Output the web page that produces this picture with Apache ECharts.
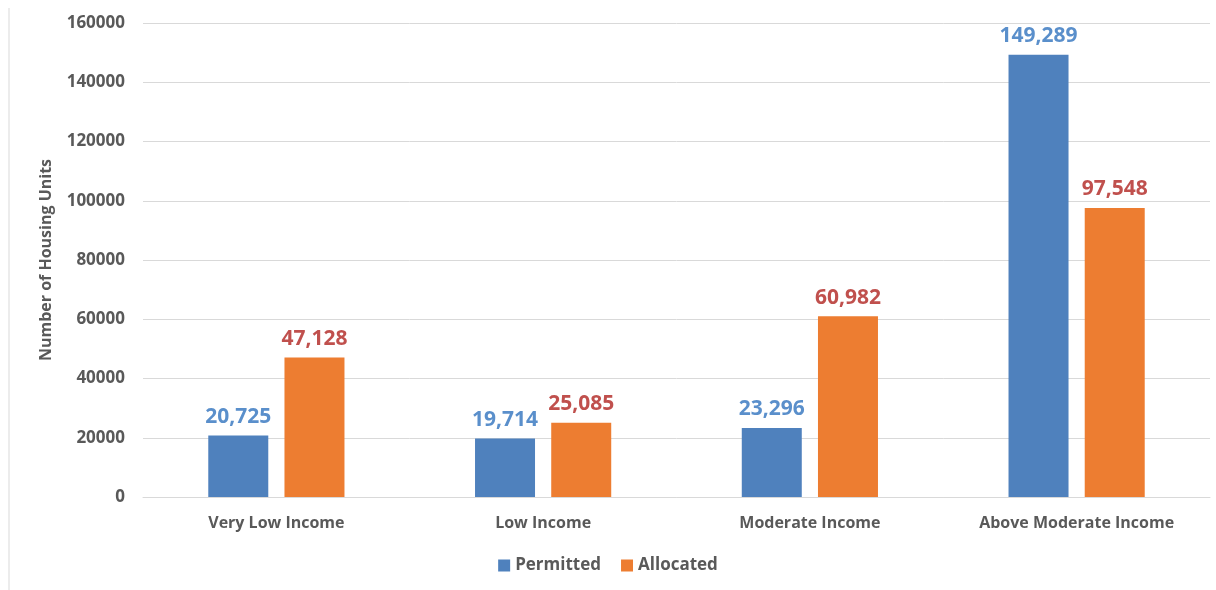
<!DOCTYPE html>
<html>
<head>
<meta charset="utf-8">
<script src="https://cdn.jsdelivr.net/npm/echarts@6/dist/echarts.min.js"></script>
<style>
  html, body { margin: 0; padding: 0; background: #fff; }
  #chart { width: 1216px; height: 590px; }
</style>
</head>
<body>
<div id="chart"></div>
<script>
// Housing units permitted vs. allocated by income level
const categories = ['Very Low Income', 'Low Income', 'Moderate Income', 'Above Moderate Income'];
const permitted = [20725, 19714, 23296, 149289];
const allocated = [47128, 25085, 60982, 97548];
const yTicks = { min: 0, max: 160000, interval: 20000 };

const FONT = '"Open Sans", "Noto Sans", sans-serif';
const fmt = v => v.toLocaleString('en-US');

const chart = echarts.init(document.getElementById('chart'));
chart.setOption({
  animation: false,
  textStyle: { fontFamily: FONT },
  graphic: [{
    type: 'line',
    shape: { x1: 9, y1: 8, x2: 9, y2: 590 },
    style: { stroke: '#d9d9d9', lineWidth: 1 }
  }],
  grid: { left: 143, right: 6, top: 23, bottom: 93, containLabel: false },
  legend: {
    data: ['Permitted', 'Allocated'],
    bottom: 11,
    left: 'center',
    icon: 'rect',
    itemWidth: 12,
    itemHeight: 12,
    itemGap: 20,
    itemTextGap: 6,
    textStyle: { fontFamily: FONT, fontSize: 17, fontWeight: 'bold', color: '#595959' }
  },
  xAxis: {
    type: 'category',
    data: categories,
    axisLine: { show: true, lineStyle: { color: '#d9d9d9' } },
    axisTick: { show: false },
    axisLabel: { fontFamily: FONT, fontSize: 16, fontWeight: 'bold', color: '#595959', margin: 18 }
  },
  yAxis: {
    type: 'value',
    min: yTicks.min,
    max: yTicks.max,
    interval: yTicks.interval,
    name: 'Number of Housing Units',
    nameLocation: 'middle',
    nameGap: 89,
    nameRotate: 90,
    nameTextStyle: { fontFamily: FONT, fontSize: 16, fontWeight: 'bold', color: '#595959' },
    axisLine: { show: false },
    axisTick: { show: false },
    splitLine: { lineStyle: { color: '#d9d9d9' } },
    axisLabel: {
      fontFamily: FONT, fontSize: 17, fontWeight: 'bold', color: '#595959', margin: 18,
      formatter: v => String(v)
    }
  },
  series: [
    {
      name: 'Permitted',
      type: 'bar',
      data: permitted,
      barWidth: 60,
      barGap: '27%',
      itemStyle: { color: '#4f81bd' },
      label: {
        show: true, position: 'top', distance: 8,
        formatter: p => fmt(p.value),
        fontFamily: FONT, fontSize: 21, fontWeight: 'bold', color: '#5a8fcb'
      }
    },
    {
      name: 'Allocated',
      type: 'bar',
      data: allocated,
      barWidth: 60,
      itemStyle: { color: '#ed7d31' },
      label: {
        show: true, position: 'top', distance: 8,
        formatter: p => fmt(p.value),
        fontFamily: FONT, fontSize: 21, fontWeight: 'bold', color: '#c0504d'
      }
    }
  ]
});
</script>
</body>
</html>
